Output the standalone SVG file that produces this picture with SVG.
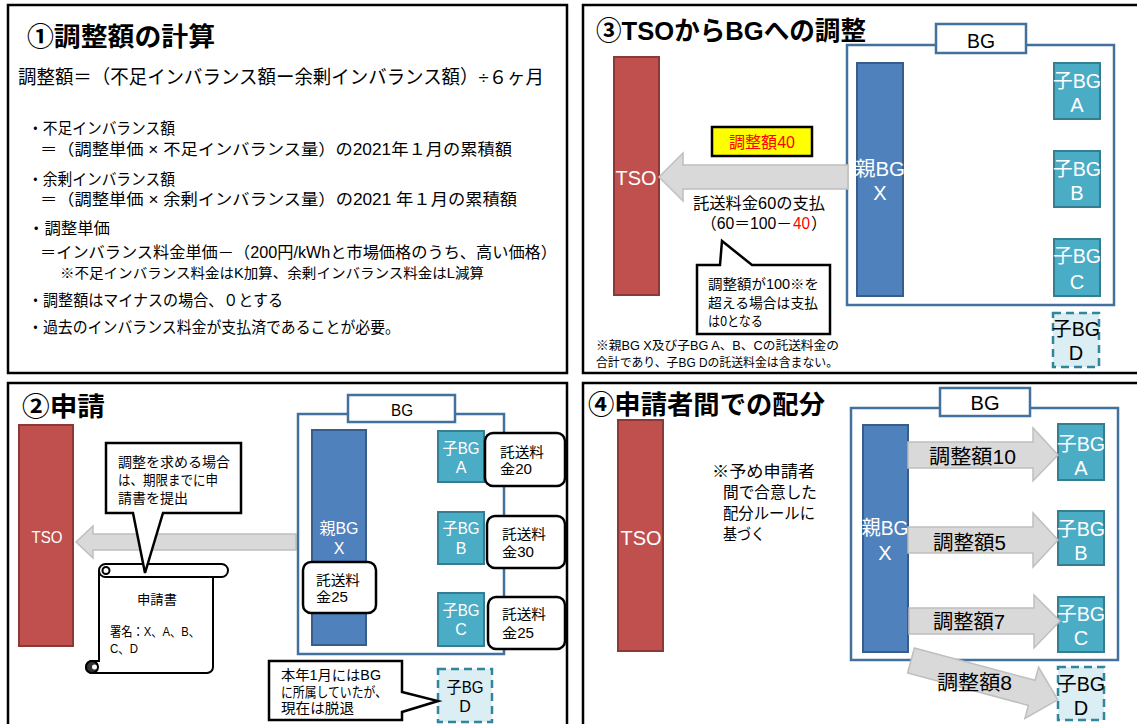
<svg xmlns="http://www.w3.org/2000/svg" width="1137" height="724" viewBox="0 0 1137 724">
<style>
text { font-family: "Liberation Sans", "Noto Sans CJK JP", sans-serif; fill: #000; }
.frame { fill: #fff; stroke: #000; stroke-width: 2.5; }
.title { font-size: 26px; font-weight: 700; }
.tso { fill: #C0504D; stroke: #8C3836; stroke-width: 2; }
.parent { fill: #4F81BD; stroke: #385D8A; stroke-width: 2; }
.child { fill: #4BACC6; stroke: #357D91; stroke-width: 2; }
.childd { fill: #DAEEF3; stroke: #31859C; stroke-width: 2.5; stroke-dasharray: 8 5; }
.bg { fill: none; stroke: #41719C; stroke-width: 2.5; }
.bglabel { fill: #fff; stroke: #41719C; stroke-width: 2.5; }
.wt { fill: #fff; }
.red { fill: #FF0000; }
.arrow { fill: #D9D9D9; stroke: #BFBFBF; stroke-width: 1.5; }
.callout { fill: #fff; stroke: #000; stroke-width: 2.5; stroke-linejoin: miter; }
.mid { text-anchor: middle; }
.s14 { font-size: 14px; }
.s16 { font-size: 16px; }
.s20 { font-size: 20px; }
.s21 { font-size: 21px; }
</style>
<rect x="0" y="0" width="1137" height="724" fill="#fff"/>

<!-- Frames -->
<g id="frames">
  <rect class="frame" x="8" y="5" width="559" height="368"/>
  <rect class="frame" x="583" y="5" width="570" height="368"/>
  <rect class="frame" x="8" y="383" width="559" height="360"/>
  <rect class="frame" x="583" y="383" width="570" height="360"/>
</g>

<!-- ① calculation panel -->
<g id="panel1">
  <text class="title" x="27" y="46" textLength="188" lengthAdjust="spacingAndGlyphs">①調整額の計算</text>
  <text x="18" y="84" font-size="19" textLength="526" lengthAdjust="spacingAndGlyphs">調整額＝（不足インバランス額ー余剰インバランス額）÷６ヶ月</text>
  <text class="s16" x="28" y="134"><tspan textLength="147" lengthAdjust="spacingAndGlyphs">・不足インバランス額</tspan><tspan x="40" y="155" textLength="472" lengthAdjust="spacingAndGlyphs">＝（調整単価 × 不足インバランス量）の2021年１月の累積額</tspan></text>
  <text class="s16" x="28" y="185"><tspan textLength="147" lengthAdjust="spacingAndGlyphs">・余剰インバランス額</tspan><tspan x="40" y="205" textLength="477" lengthAdjust="spacingAndGlyphs">＝（調整単価 × 余剰インバランス量）の2021 年１月の累積額</tspan></text>
  <text class="s16" x="28" y="234"><tspan textLength="82" lengthAdjust="spacingAndGlyphs">・調整単価</tspan><tspan x="40" y="258" textLength="517" lengthAdjust="spacingAndGlyphs">＝インバランス料金単価－（200円/kWhと市場価格のうち、高い価格）</tspan><tspan class="s14" x="60" y="278" textLength="424" lengthAdjust="spacingAndGlyphs">※不足インバランス料金はK加算、余剰インバランス料金はL減算</tspan></text>
  <text class="s16" x="28" y="306" textLength="255" lengthAdjust="spacingAndGlyphs">・調整額はマイナスの場合、０とする</text>
  <text class="s16" x="28" y="333" textLength="372" lengthAdjust="spacingAndGlyphs">・過去のインバランス料金が支払済であることが必要。</text>
</g>

<!-- ③ TSO to BG panel -->
<g id="panel3">
  <text class="title" x="596" y="40" textLength="270" lengthAdjust="spacingAndGlyphs">③TSOからBGへの調整</text>
  <g id="p3-tso">
    <rect class="tso" x="614" y="57" width="45" height="238"/>
    <text class="wt mid s21" x="636" y="185" textLength="41" lengthAdjust="spacingAndGlyphs">TSO</text>
  </g>
  <g id="p3-bg">
    <rect class="bg" x="847" y="45" width="267" height="260"/>
    <rect class="bglabel" x="936" y="24" width="90" height="29"/>
    <text class="mid s20" x="981" y="48" textLength="28" lengthAdjust="spacingAndGlyphs">BG</text>
  </g>
  <g id="p3-parent">
    <rect class="parent" x="857" y="63" width="46" height="233"/>
    <text class="wt mid s20" x="880" y="175.5"><tspan textLength="50" lengthAdjust="spacingAndGlyphs">親BG</tspan><tspan x="880" y="200">X</tspan></text>
  </g>
  <g id="p3-childA">
    <rect class="child" x="1054" y="63" width="46" height="56"/>
    <text class="wt mid s20" x="1077" y="87.5"><tspan textLength="48" lengthAdjust="spacingAndGlyphs">子BG</tspan><tspan x="1077" y="112">A</tspan></text>
  </g>
  <g id="p3-childB">
    <rect class="child" x="1054" y="151" width="46" height="56"/>
    <text class="wt mid s20" x="1077" y="175.5"><tspan textLength="48" lengthAdjust="spacingAndGlyphs">子BG</tspan><tspan x="1077" y="200">B</tspan></text>
  </g>
  <g id="p3-childC">
    <rect class="child" x="1054" y="239" width="46" height="57"/>
    <text class="wt mid s20" x="1077" y="262.5"><tspan textLength="48" lengthAdjust="spacingAndGlyphs">子BG</tspan><tspan x="1077" y="289">C</tspan></text>
  </g>
  <g id="p3-childD">
    <rect class="childd" x="1053" y="313" width="46" height="54"/>
    <text class="mid s20" x="1076" y="335.5"><tspan textLength="48" lengthAdjust="spacingAndGlyphs">子BG</tspan><tspan x="1076" y="360">D</tspan></text>
  </g>
  <g id="p3-connectors">
    <polygon class="arrow" points="848,165 683,165 683,153 659,177 683,201 683,189 848,189"/>
  </g>
  <g id="p3-adjust">
    <rect x="712" y="127" width="100" height="29" fill="#FFFF00" stroke="#000" stroke-width="2.5"/>
    <text class="mid s16 red" x="762" y="148" textLength="66" lengthAdjust="spacingAndGlyphs">調整額40</text>
  </g>
  <g id="p3-payment">
    <text class="s16" x="693" y="209"><tspan textLength="132" lengthAdjust="spacingAndGlyphs">託送料金60の支払</tspan><tspan x="701" y="229" textLength="91" lengthAdjust="spacingAndGlyphs">（60＝100－</tspan><tspan class="red" x="793" y="229" textLength="17" lengthAdjust="spacingAndGlyphs">40</tspan><tspan x="811" y="229">）</tspan></text>
  </g>
  <g id="p3-callout">
    <path class="callout" d="M697,265 H720 L722,241 L752,265 H830 V334 H697 Z"/>
    <text class="s14" x="708" y="289"><tspan textLength="111" lengthAdjust="spacingAndGlyphs">調整額が100※を</tspan><tspan x="708" y="308" textLength="110" lengthAdjust="spacingAndGlyphs">超える場合は支払</tspan><tspan x="708" y="326" textLength="55" lengthAdjust="spacingAndGlyphs">は0となる</tspan></text>
  </g>
  <g id="p3-note">
    <text x="596" y="350" font-size="12.5"><tspan textLength="243" lengthAdjust="spacingAndGlyphs">※親BG X及び子BG A、B、Cの託送料金の</tspan><tspan x="596" y="367" textLength="242" lengthAdjust="spacingAndGlyphs">合計であり、子BG Dの託送料金は含まない。</tspan></text>
  </g>
</g>

<!-- ② application panel -->
<g id="panel2">
  <text class="title" x="22" y="416" textLength="83" lengthAdjust="spacingAndGlyphs">②申請</text>
  <g id="p2-tso">
    <rect class="tso" x="19" y="425" width="54" height="221"/>
    <text class="wt mid" x="47" y="543" font-size="17" textLength="31" lengthAdjust="spacingAndGlyphs">TSO</text>
  </g>
  <g id="p2-connectors">
    <polygon class="arrow" points="296,534 93,534 93,526 76,542 93,558 93,550 296,550"/>
  </g>
  <g id="p2-scroll">
    <path d="M99,571 V661 H92 A6,6 0 0 0 92,673 H207 A6,6 0 0 0 213,667 V577 Z" fill="#fff" stroke="#000" stroke-width="2"/>
    <rect x="99" y="564" width="129" height="13" rx="6.5" fill="#fff" stroke="#000" stroke-width="2"/>
    <circle cx="106" cy="570.5" r="3.5" fill="#fff" stroke="#000" stroke-width="2"/>
    <circle cx="92" cy="667" r="6" fill="#333" stroke="#000" stroke-width="2"/>
    <circle cx="94.5" cy="667" r="2.5" fill="#fff"/>
    <text class="mid" x="157" y="604" font-size="13" textLength="40" lengthAdjust="spacingAndGlyphs">申請書</text>
    <text x="110" y="636" font-size="13"><tspan textLength="90" lengthAdjust="spacingAndGlyphs">署名：X、A、B、</tspan><tspan x="110" y="653" textLength="28" lengthAdjust="spacingAndGlyphs">C、D</tspan></text>
  </g>
  <g id="p2-callout">
    <path class="callout" d="M106,443 H241 V513 H163 L145,573 L133,513 H106 Z"/>
    <text class="s14" x="118" y="467"><tspan textLength="112" lengthAdjust="spacingAndGlyphs">調整を求める場合</tspan><tspan x="118" y="485" textLength="100" lengthAdjust="spacingAndGlyphs">は、期限までに申</tspan><tspan x="118" y="503" textLength="70" lengthAdjust="spacingAndGlyphs">請書を提出</tspan></text>
  </g>
  <g id="p2-bg">
    <rect class="bg" x="298" y="414" width="206" height="240"/>
    <rect class="bglabel" x="348" y="395" width="107" height="27"/>
    <text class="mid s16" x="402" y="416" textLength="22" lengthAdjust="spacingAndGlyphs">BG</text>
  </g>
  <g id="p2-parent">
    <rect class="parent" x="312" y="430" width="54" height="215"/>
    <text class="wt mid s16" x="339" y="534"><tspan textLength="39" lengthAdjust="spacingAndGlyphs">親BG</tspan><tspan x="339" y="554">X</tspan></text>
  </g>
  <g id="p2-fee-X">
    <rect class="callout" x="303" y="562" width="73" height="51" rx="8"/>
    <text class="s14" x="316" y="585"><tspan textLength="44" lengthAdjust="spacingAndGlyphs">託送料</tspan><tspan x="316" y="602" textLength="32" lengthAdjust="spacingAndGlyphs">金25</tspan></text>
  </g>
  <g id="p2-childA">
    <rect class="child" x="438" y="431" width="46" height="51"/>
    <text class="wt mid s16" x="461" y="454"><tspan textLength="37" lengthAdjust="spacingAndGlyphs">子BG</tspan><tspan x="461" y="473">A</tspan></text>
  </g>
  <g id="p2-fee-A">
    <rect class="callout" x="485" y="433" width="80" height="53" rx="8"/>
    <text class="s14" x="500" y="457"><tspan textLength="44" lengthAdjust="spacingAndGlyphs">託送料</tspan><tspan x="500" y="474" textLength="32" lengthAdjust="spacingAndGlyphs">金20</tspan></text>
  </g>
  <g id="p2-childB">
    <rect class="child" x="438" y="512" width="46" height="52"/>
    <text class="wt mid s16" x="461" y="534"><tspan textLength="37" lengthAdjust="spacingAndGlyphs">子BG</tspan><tspan x="461" y="554">B</tspan></text>
  </g>
  <g id="p2-fee-B">
    <rect class="callout" x="487" y="516" width="78" height="52" rx="8"/>
    <text class="s14" x="502" y="539"><tspan textLength="44" lengthAdjust="spacingAndGlyphs">託送料</tspan><tspan x="502" y="557" textLength="32" lengthAdjust="spacingAndGlyphs">金30</tspan></text>
  </g>
  <g id="p2-childC">
    <rect class="child" x="438" y="593" width="46" height="53"/>
    <text class="wt mid s16" x="461" y="616"><tspan textLength="37" lengthAdjust="spacingAndGlyphs">子BG</tspan><tspan x="461" y="635">C</tspan></text>
  </g>
  <g id="p2-fee-C">
    <rect class="callout" x="488" y="597" width="77" height="52" rx="8"/>
    <text class="s14" x="502" y="619"><tspan textLength="44" lengthAdjust="spacingAndGlyphs">託送料</tspan><tspan x="502" y="638" textLength="32" lengthAdjust="spacingAndGlyphs">金25</tspan></text>
  </g>
  <g id="p2-childD">
    <rect class="childd" x="438" y="669" width="54" height="53"/>
    <text class="mid s16" x="465" y="693"><tspan textLength="37" lengthAdjust="spacingAndGlyphs">子BG</tspan><tspan x="465" y="712">D</tspan></text>
  </g>
  <g id="p2-callout-D">
    <path class="callout" d="M269,661 H402 V692 L438,701 L402,712 V720 H269 Z"/>
    <text class="s14" x="281" y="680"><tspan textLength="100" lengthAdjust="spacingAndGlyphs">本年1月にはBG</tspan><tspan x="281" y="697" textLength="106" lengthAdjust="spacingAndGlyphs">に所属していたが、</tspan><tspan x="281" y="713" textLength="73" lengthAdjust="spacingAndGlyphs">現在は脱退</tspan></text>
  </g>
</g>

<!-- ④ distribution panel -->
<g id="panel4">
  <text class="title" x="588" y="414" textLength="237" lengthAdjust="spacingAndGlyphs">④申請者間での配分</text>
  <g id="p4-tso">
    <rect class="tso" x="618" y="420" width="45" height="231"/>
    <text class="wt mid s21" x="641" y="545" textLength="41" lengthAdjust="spacingAndGlyphs">TSO</text>
  </g>
  <g id="p4-note">
    <text class="s16" x="712" y="477"><tspan textLength="103" lengthAdjust="spacingAndGlyphs">※予め申請者</tspan><tspan x="723" y="498" textLength="94" lengthAdjust="spacingAndGlyphs">間で合意した</tspan><tspan x="723" y="519" textLength="92" lengthAdjust="spacingAndGlyphs">配分ルールに</tspan><tspan x="723" y="540" textLength="42" lengthAdjust="spacingAndGlyphs">基づく</tspan></text>
  </g>
  <g id="p4-bg">
    <rect class="bg" x="851" y="408" width="267" height="252"/>
    <rect class="bglabel" x="940" y="388" width="90" height="28"/>
    <text class="mid s20" x="985" y="410" textLength="29" lengthAdjust="spacingAndGlyphs">BG</text>
  </g>
  <g id="p4-parent">
    <rect class="parent" x="863" y="425" width="45" height="227"/>
    <text class="wt mid s20" x="885" y="534.5"><tspan textLength="47" lengthAdjust="spacingAndGlyphs">親BG</tspan><tspan x="885" y="560">X</tspan></text>
  </g>
  <g id="p4-childA">
    <rect class="child" x="1058" y="424" width="46" height="56"/>
    <text class="wt mid s20" x="1081" y="450.5"><tspan textLength="48" lengthAdjust="spacingAndGlyphs">子BG</tspan><tspan x="1081" y="474.5">A</tspan></text>
  </g>
  <g id="p4-childB">
    <rect class="child" x="1058" y="511" width="46" height="54"/>
    <text class="wt mid s20" x="1081" y="535.5"><tspan textLength="48" lengthAdjust="spacingAndGlyphs">子BG</tspan><tspan x="1081" y="560">B</tspan></text>
  </g>
  <g id="p4-childC">
    <rect class="child" x="1058" y="597" width="46" height="55"/>
    <text class="wt mid s20" x="1081" y="620.5"><tspan textLength="48" lengthAdjust="spacingAndGlyphs">子BG</tspan><tspan x="1081" y="645">C</tspan></text>
  </g>
  <g id="p4-childD">
    <rect class="childd" x="1058" y="667" width="46" height="53"/>
    <text class="mid s20" x="1081" y="690.5"><tspan textLength="48" lengthAdjust="spacingAndGlyphs">子BG</tspan><tspan x="1081" y="715">D</tspan></text>
  </g>
  <g id="p4-connectors">
    <polygon class="arrow" points="908,442 1033,442 1033,428 1058,455 1033,481 1033,468 908,468"/>
    <polygon class="arrow" points="908,527 1033,527 1033,513 1058,540 1033,567 1033,553 908,553"/>
    <polygon class="arrow" points="909,608 1034,608 1034,595 1060,621 1034,648 1034,634 909,634"/>
    <polygon class="arrow" transform="translate(911,660.5) rotate(15)" points="0,-13 125,-13 125,-26.5 152,0 125,26.5 125,13 0,13"/>
    <text class="s20" x="929" y="463.5" textLength="87" lengthAdjust="spacingAndGlyphs">調整額10</text>
    <text class="s20" x="933" y="549.5" textLength="73" lengthAdjust="spacingAndGlyphs">調整額5</text>
    <text class="s20" x="933" y="628.5" textLength="72" lengthAdjust="spacingAndGlyphs">調整額7</text>
    <text class="s20" x="937" y="689.5" textLength="75" lengthAdjust="spacingAndGlyphs">調整額8</text>
  </g>
</g>
</svg>
